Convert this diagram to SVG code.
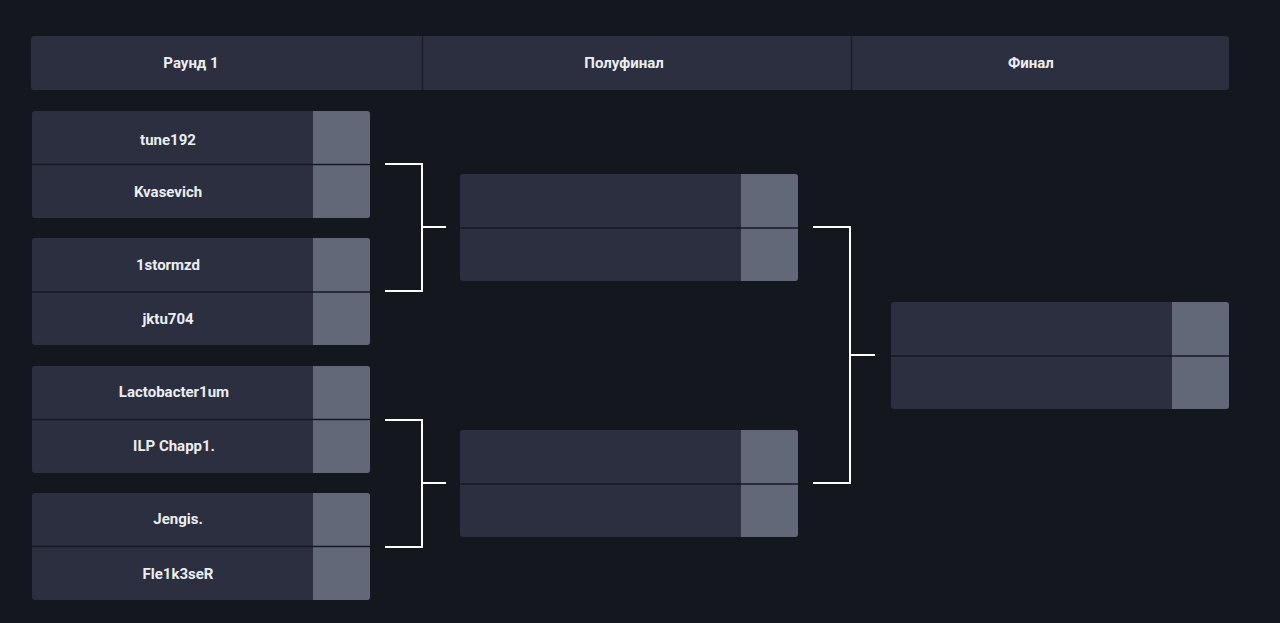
<svg xmlns="http://www.w3.org/2000/svg" width="1280" height="623" viewBox="0 0 1280 623">
<style>
.bg{fill:#15171e}
.panel{fill:#2b2f3f}
.score{fill:#636879}
.sep{stroke:#171922;stroke-width:1.5}
.t{font-family:Roboto,"Liberation Sans",sans-serif;font-weight:700;font-size:15px;fill:#eceef3;text-anchor:middle}
.c{fill:none;stroke:#ffffff;stroke-width:2}
</style>
<defs>
<clipPath id="cr"><rect x="0" y="0" width="338" height="107" rx="3"/></clipPath>
</defs>
<rect class="bg" width="1280" height="623"/>
<g id="header">
<rect class="panel" x="31" y="36" width="1198" height="54" rx="3"/>
<line x1="422.5" y1="36" x2="422.5" y2="90" stroke="#1c1f29" stroke-width="1.5"/>
<line x1="851.5" y1="36" x2="851.5" y2="90" stroke="#1c1f29" stroke-width="1.5"/>
<text class="t" x="191" y="68">Раунд 1</text>
<text class="t" x="624" y="68">Полуфинал</text>
<text class="t" x="1031" y="68">Финал</text>
</g>
<g id="r1m1" transform="translate(32,111)">
<g clip-path="url(#cr)"><rect class="panel" width="338" height="107"/><rect class="score" x="281" width="57" height="107"/></g>
<line class="sep" x1="0" y1="53.5" x2="338" y2="53.5"/>
<text class="t" x="136" y="34">tune192</text>
<text class="t" x="136" y="86">Kvasevich</text>
</g>
<g id="r1m2" transform="translate(32,238)">
<g clip-path="url(#cr)"><rect class="panel" width="338" height="107"/><rect class="score" x="281" width="57" height="107"/></g>
<line class="sep" x1="0" y1="54" x2="338" y2="54"/>
<text class="t" x="136" y="32">1stormzd</text>
<text class="t" x="136" y="86">jktu704</text>
</g>
<g id="r1m3" transform="translate(32,366)">
<g clip-path="url(#cr)"><rect class="panel" width="338" height="107"/><rect class="score" x="281" width="57" height="107"/></g>
<line class="sep" x1="0" y1="53.5" x2="338" y2="53.5"/>
<text class="t" x="142" y="31">Lactobacter1um</text>
<text class="t" x="142" y="85">ILP Chapp1.</text>
</g>
<g id="r1m4" transform="translate(32,493)">
<g clip-path="url(#cr)"><rect class="panel" width="338" height="107"/><rect class="score" x="281" width="57" height="107"/></g>
<line class="sep" x1="0" y1="53.5" x2="338" y2="53.5"/>
<text class="t" x="146" y="31">Jengis.</text>
<text class="t" x="146" y="86">Fle1k3seR</text>
</g>
<g id="sf1" transform="translate(460,174)">
<g clip-path="url(#cr)"><rect class="panel" width="338" height="107"/><rect class="score" x="281" width="57" height="107"/></g>
<line class="sep" x1="0" y1="54" x2="338" y2="54"/>
</g>
<g id="sf2" transform="translate(460,430)">
<g clip-path="url(#cr)"><rect class="panel" width="338" height="107"/><rect class="score" x="281" width="57" height="107"/></g>
<line class="sep" x1="0" y1="54" x2="338" y2="54"/>
</g>
<g id="final" transform="translate(891,302)">
<g clip-path="url(#cr)"><rect class="panel" width="338" height="108"/><rect class="score" x="281" width="57" height="108"/></g>
<line class="sep" x1="0" y1="54" x2="338" y2="54"/>
</g>
<g id="connectors">
<path class="c" d="M385 164H422V291H385M422 227H446"/>
<path class="c" d="M385 420H422V547H385M422 483H446"/>
<path class="c" d="M813 227H850V483H813M850 355H875"/>
</g>
</svg>
